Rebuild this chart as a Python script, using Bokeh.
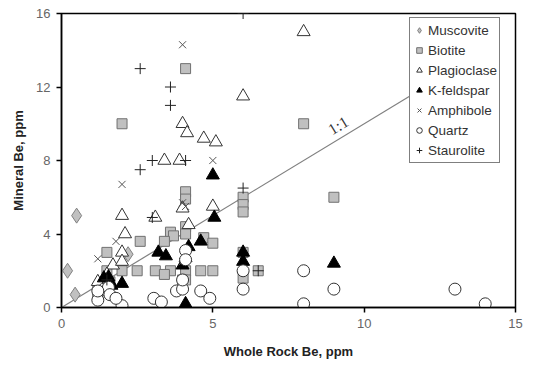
from bokeh.plotting import figure
from bokeh.models import Range1d, Label, FixedTicker
from bokeh.embed import file_html
from bokeh.resources import INLINE

# ---- data ----
musc_x = [0.2, 0.5, 0.45, 2.2]
musc_y = [2.0, 5.0, 0.7, 2.9]

bio_x = [2.0, 4.1, 8.0, 9.0, 6.0, 6.0, 6.0, 6.0, 6.0, 6.5, 4.1, 4.1, 4.1, 4.1, 3.6, 3.7, 3.4, 2.6,
         1.5, 2.5, 3.1, 3.6, 4.1, 4.6, 5.0, 4.7, 5.0, 4.0, 4.1, 3.4, 1.2, 1.2, 2.0, 1.5, 1.6]
bio_y = [10.0, 13.0, 10.0, 6.0, 6.0, 5.6, 5.2, 3.0, 1.6, 2.0, 6.3, 5.9, 4.4, 4.0, 4.1, 3.9, 3.6, 3.6,
         3.0, 2.0, 2.0, 2.0, 2.0, 2.0, 2.0, 3.8, 3.5, 1.5, 1.5, 1.8, 0.9, 0.6, 2.0, 2.0, 1.4]

plag_x = [8.0, 6.0, 4.0, 4.15, 4.7, 5.1, 3.4, 3.9, 2.0, 3.1, 4.0, 5.0, 2.1, 2.0, 1.7, 4.2, 1.2, 4.1, 2.0, 1.5]
plag_y = [15.0, 11.5, 10.0, 9.5, 9.2, 9.0, 8.0, 8.0, 5.0, 4.9, 5.4, 5.5, 4.0, 3.0, 2.3, 4.5, 1.4, 2.7, 2.5, 1.8]

kfs_x = [5.0, 5.05, 4.6, 6.0, 6.0, 9.0, 3.2, 3.45, 4.2, 4.0, 1.55, 1.6, 1.65, 4.1, 2.0, 1.4]
kfs_y = [7.2, 4.9, 3.6, 3.0, 2.5, 2.4, 3.0, 2.8, 3.3, 2.3, 1.65, 1.4, 1.2, 0.2, 1.3, 1.6]

amph_x = [4.0, 5.0, 2.0, 1.8, 1.2, 4.1, 4.0, 4.0]
amph_y = [14.3, 8.0, 6.7, 3.6, 2.65, 5.5, 2.5, 5.7]

qtz_x = [13.0, 14.0, 9.0, 8.0, 8.0, 6.0, 6.0, 4.6, 4.9, 3.8, 4.0, 3.05, 3.3, 4.1, 4.1,
         1.2, 1.4, 1.55, 1.6, 2.0, 1.8, 1.2, 4.0]
qtz_y = [1.0, 0.2, 1.0, 0.2, 2.0, 1.0, 2.0, 0.9, 0.5, 0.9, 1.0, 0.5, 0.3, 3.1, 2.6,
         0.4, 1.0, 1.1, 0.7, 0.1, 0.5, 0.9, 1.5]

stau_x = [6.0, 2.6, 3.6, 3.6, 3.0, 4.1, 2.6, 3.0, 6.0, 6.5, 1.5]
stau_y = [16.0, 13.0, 12.0, 11.0, 8.0, 8.0, 7.5, 4.9, 6.5, 2.0, 1.5]

line_x = [0.0, 11.5]
line_y = [0.0, 11.5]

x_ticks = [0, 5, 10, 15]
y_ticks = [0, 4, 8, 12, 16]

FONT = "Liberation Sans"

p = figure(width=534, height=366, x_range=Range1d(0, 15), y_range=Range1d(0, 16),
           output_backend="svg", toolbar_location=None,
           min_border_left=61, min_border_right=19, min_border_top=13, min_border_bottom=59)
p.xgrid.visible = False
p.ygrid.visible = False
p.outline_line_color = "black"
p.outline_line_width = 1.5
p.background_fill_color = "white"
p.border_fill_color = "white"

for ax, ticks in ((p.xaxis, x_ticks), (p.yaxis, y_ticks)):
    ax.ticker = FixedTicker(ticks=ticks)
    ax.minor_tick_line_color = None
    ax.major_tick_in = 0
    ax.major_tick_out = 5
    ax.major_tick_line_color = "black"
    ax.major_tick_line_width = 1.5
    ax.axis_line_color = "black"
    ax.axis_line_width = 1.5
    ax.major_label_text_font = FONT
    ax.major_label_text_font_size = "13px"
    ax.major_label_text_color = "#666666"
    ax.axis_label_text_font = FONT
    ax.axis_label_text_font_size = "13px"
    ax.axis_label_text_font_style = "bold"
    ax.axis_label_text_color = "#222222"

p.xaxis.axis_label = "Whole Rock Be, ppm"
p.yaxis.axis_label = "Mineral Be, ppm"
p.xaxis.major_label_standoff = 6
p.xaxis.axis_label_standoff = 13
p.yaxis.major_label_standoff = 6
p.yaxis.axis_label_standoff = 7

p.line(line_x, line_y, line_color="#808080", line_width=1.2)

p.scatter(musc_x, musc_y, marker="diamond", size=15, fill_color="#c0c0c0", line_color="#808080",
          line_width=1, legend_label="Muscovite")
p.scatter(bio_x, bio_y, marker="square", size=10, fill_color="#c0c0c0", line_color="#707070",
          line_width=1, legend_label="Biotite")
p.scatter(plag_x, plag_y, marker="triangle", size=13, fill_color="white", line_color="#333333",
          line_width=1, legend_label="Plagioclase")
p.scatter(kfs_x, kfs_y, marker="triangle", size=13, fill_color="black", line_color="black",
          line_width=1, legend_label="K-feldspar")
p.scatter(amph_x, amph_y, marker="x", size=10, line_color="#555555", line_width=1,
          legend_label="Amphibole")
p.scatter(qtz_x, qtz_y, marker="circle", size=12, fill_color="white", line_color="#333333",
          line_width=1, legend_label="Quartz")
p.scatter(stau_x, stau_y, marker="cross", size=11, line_color="#222222", line_width=1,
          legend_label="Staurolite")

p.add_layout(Label(x=9.0, y=9.0, text="1:1", angle=0.546, text_font="Liberation Serif",
                   text_font_size="16px", text_color="#333333", x_offset=0, y_offset=4))

lg = p.legend[0]
lg.location = (348, 144)
lg.border_line_color = "black"
lg.border_line_width = 1.5
lg.background_fill_color = "white"
lg.background_fill_alpha = 1
lg.margin = 0
lg.padding = 2
lg.spacing = 0
lg.label_height = 20
lg.glyph_height = 20
lg.glyph_width = 14
lg.label_standoff = 2
lg.label_text_font = FONT
lg.label_text_font_size = "13.5px"
lg.label_text_color = "#333333"

open("out.html", "w").write(file_html(p, INLINE))
